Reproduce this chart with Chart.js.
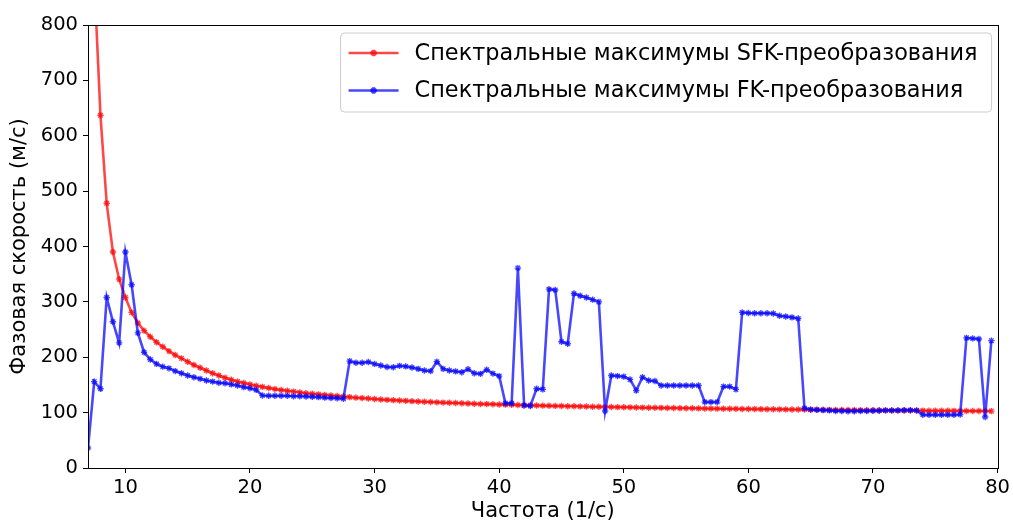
<!DOCTYPE html>
<html>
<head>
<meta charset="utf-8">
<script src="https://cdn.jsdelivr.net/npm/chart.js@4/dist/chart.umd.min.js"></script>
<style>
  html, body { margin: 0; padding: 0; background: #fff; }
  #wrap { width: 1013px; height: 523px; position: relative; }
</style>
</head>
<body>
<div id="wrap"><canvas id="c"></canvas></div>
<script>
// Frequencies (1/s) at which the spectral maxima were picked
const freqs = [
  7, 7.5, 8, 8.5, 9, 9.5, 10, 10.5, 11, 11.5,
  12, 12.5, 13, 13.5, 14, 14.5, 15, 15.5, 16, 16.5,
  17, 17.5, 18, 18.5, 19, 19.5, 20, 20.5, 21, 21.5,
  22, 22.5, 23, 23.5, 24, 24.5, 25, 25.5, 26, 26.5,
  27, 27.5, 28, 28.5, 29, 29.5, 30, 30.5, 31, 31.5,
  32, 32.5, 33, 33.5, 34, 34.5, 35, 35.5, 36, 36.5,
  37, 37.5, 38, 38.5, 39, 39.5, 40, 40.5, 41, 41.5,
  42, 42.5, 43, 43.5, 44, 44.5, 45, 45.5, 46, 46.5,
  47, 47.5, 48, 48.5, 49, 49.5, 50, 50.5, 51, 51.5,
  52, 52.5, 53, 53.5, 54, 54.5, 55, 55.5, 56, 56.5,
  57, 57.5, 58, 58.5, 59, 59.5, 60, 60.5, 61, 61.5,
  62, 62.5, 63, 63.5, 64, 64.5, 65, 65.5, 66, 66.5,
  67, 67.5, 68, 68.5, 69, 69.5, 70, 70.5, 71, 71.5,
  72, 72.5, 73, 73.5, 74, 74.5, 75, 75.5, 76, 76.5,
  77, 77.5, 78, 78.5, 79, 79.5
];

// Phase velocity (m/s) of the SFK-transform maxima
const sfkVelocity = [
  null, 885, 637, 478, 390, 341, 308, 281, 262, 248,
  237, 227, 219, 211, 204, 198, 192, 186, 181, 176,
  171, 167, 163, 159.5, 156, 153.5, 151, 148.5, 146.5, 144.5,
  142.5, 141, 139.5, 138, 136.5, 135, 134, 133, 132, 131,
  130, 129, 128, 127, 126.2, 125.4, 124.6, 123.8, 123.1, 122.5,
  121.9, 121.3, 120.7, 120.1, 119.6, 119.1, 118.6, 118.1, 117.7, 117.3,
  116.9, 116.5, 116.1, 115.7, 115.4, 115, 114.7, 114.4, 114.1, 113.8,
  113.5, 113.2, 112.9, 112.6, 112.4, 112.1, 111.9, 111.6, 111.4, 111.2,
  111, 110.7, 110.5, 110.3, 110.1, 109.9, 109.7, 109.5, 109.3, 109.1,
  108.9, 108.8, 108.6, 108.4, 108.3, 108.1, 107.9, 107.8, 107.6, 107.5,
  107.3, 107.2, 107, 106.9, 106.8, 106.6, 106.5, 106.4, 106.3, 106.1,
  106, 105.9, 105.8, 105.7, 105.6, 105.5, 105.4, 105.2, 105.1, 105,
  104.9, 104.8, 104.7, 104.6, 104.5, 104.4, 104.3, 104.2, 104.1, 104,
  104, 103.9, 103.8, 103.7, 103.6, 103.5, 103.4, 103.4, 103.3, 103.2,
  103.1, 103, 103, 102.9, 102.8, 102.7
];

// Phase velocity (m/s) of the FK-transform maxima
const fkVelocity = [
  36, 156, 143, 308, 264, 226, 390, 331, 244, 209,
  196, 188, 183, 180, 175, 171, 167, 164, 161, 158,
  156, 154, 153, 151, 149, 146, 144, 141, 131, 130.5,
  130.5, 130.5, 130.5, 129.5, 129.5, 129, 128.5, 128, 127, 126.5,
  126, 125, 193, 190, 190, 191.5, 188, 185, 182.5, 182,
  184.5, 183.5, 181.5, 179, 176, 175, 192, 179, 176, 174.5,
  173, 178.5, 171, 170, 177.5, 170.5, 166, 117, 117, 361,
  113, 112, 143, 142, 323, 321.5, 228, 224.5, 315, 311,
  308, 304, 300, 103, 167, 166, 165, 160, 140, 164,
  158, 157, 149, 149, 149, 149, 149, 149, 149, 119,
  119, 119, 147, 147, 142, 281, 280, 279.5, 279.5, 279.5,
  279, 275, 273.5, 272, 270, 108, 105.5, 105, 104.5, 104,
  103, 103, 102.5, 102.5, 103, 103, 103.5, 103.5, 104, 104,
  104, 104.5, 104.5, 104, 96, 96, 96, 96, 96, 96,
  96.5, 235, 234, 233, 92, 230
];

const xTickValues = [10, 20, 30, 40, 50, 60, 70, 80];
const seriesNames = [
  'Спектральные максимумы SFK-преобразования',
  'Спектральные максимумы FK-преобразования'
];
const xTitle = 'Частота (1/с)';
const yTitle = 'Фазовая скорость (м/с)';

const FONT = "'DejaVu Sans', sans-serif";
const RED = 'rgba(255, 0, 0, 0.72)';
const BLUE = 'rgba(0, 0, 255, 0.72)';

const toPoints = vals => freqs.map((f, i) => ({ x: f, y: vals[i] }));

// Full box around the plotting area
const framePlugin = {
  id: 'frame',
  afterDatasetsDraw(chart) {
    const { ctx, chartArea: a } = chart;
    ctx.save();
    ctx.strokeStyle = '#000';
    ctx.lineWidth = 1;
    ctx.strokeRect(Math.round(a.left) + 0.5, Math.round(a.top) + 0.5,
                   Math.round(a.right - a.left), Math.round(a.bottom - a.top));
    ctx.restore();
  }
};

// Framed legend in the upper right corner of the plot
const boxLegend = {
  id: 'boxLegend',
  afterDraw(chart) {
    const { ctx, chartArea: a } = chart;
    const w = 651, h = 79;
    const x0 = a.right - 6 - w, y0 = a.top + 8;
    const r = 4;
    ctx.save();
    ctx.beginPath();
    ctx.moveTo(x0 + r, y0);
    ctx.arcTo(x0 + w, y0, x0 + w, y0 + h, r);
    ctx.arcTo(x0 + w, y0 + h, x0, y0 + h, r);
    ctx.arcTo(x0, y0 + h, x0, y0, r);
    ctx.arcTo(x0, y0, x0 + w, y0, r);
    ctx.closePath();
    ctx.fillStyle = 'rgba(255,255,255,0.8)';
    ctx.fill();
    ctx.strokeStyle = '#cccccc';
    ctx.lineWidth = 1;
    ctx.stroke();

    chart.data.datasets.forEach((ds, i) => {
      const cy = y0 + 20 + i * 37.5;
      const lx0 = x0 + 8, lx1 = x0 + 58;
      ctx.strokeStyle = ds.borderColor;
      ctx.lineWidth = ds.borderWidth;
      ctx.beginPath();
      ctx.moveTo(lx0, cy);
      ctx.lineTo(lx1, cy);
      ctx.stroke();
      Chart.helpers.drawPoint(ctx, {
        pointStyle: ds.pointStyle, radius: ds.pointRadius,
        borderWidth: ds.pointBorderWidth, rotation: 0
      }, (lx0 + lx1) / 2, cy);
      ctx.fillStyle = '#000';
      ctx.font = '22.4px ' + FONT;
      ctx.textBaseline = 'middle';
      ctx.textAlign = 'left';
      ctx.fillText(ds.label, x0 + 74, cy + 1);
    });
    ctx.restore();
  }
};

const tickFont = { family: FONT, size: 19.5 };
const xTitleFont = { family: FONT, size: 21, lineHeight: 1.05 };
const yTitleFont = { family: FONT, size: 21 };

new Chart(document.getElementById('c'), {
  type: 'line',
  data: {
    datasets: [
      {
        label: seriesNames[0],
        data: toPoints(sfkVelocity),
        borderColor: RED, backgroundColor: RED,
        pointBorderColor: RED, pointBackgroundColor: RED,
        borderWidth: 2.6, pointStyle: 'star', pointRadius: 3.2, pointBorderWidth: 1.4,
        tension: 0, fill: false, order: 2
      },
      {
        label: seriesNames[1],
        data: toPoints(fkVelocity),
        borderColor: BLUE, backgroundColor: BLUE,
        pointBorderColor: BLUE, pointBackgroundColor: BLUE,
        borderWidth: 2.6, pointStyle: 'star', pointRadius: 3.2, pointBorderWidth: 1.4,
        tension: 0, fill: false, order: 1
      }
    ]
  },
  options: {
    responsive: true,
    maintainAspectRatio: false,
    animation: false,
    devicePixelRatio: 1,
    layout: { padding: { top: 25, right: 15, bottom: 0, left: 0 } },
    plugins: { legend: { display: false }, tooltip: { enabled: false } },
    events: [],
    scales: {
      x: {
        type: 'linear', min: 7, max: 80,
        afterBuildTicks: s => { s.ticks = xTickValues.map(v => ({ value: v })); },
        afterFit: s => { s.height = 55; },
        grid: { display: true, drawOnChartArea: false, drawTicks: true, tickLength: 5, color: '#000', lineWidth: 1 },
        border: { display: false },
        ticks: { font: tickFont, color: '#000', padding: 3, maxRotation: 0, autoSkip: false },
        title: { display: true, text: xTitle, font: xTitleFont, color: '#000', padding: { top: 0, bottom: 0 } }
      },
      y: {
        min: 0, max: 800,
        afterFit: s => { s.width = 88; },
        grid: { display: true, drawOnChartArea: false, drawTicks: true, tickLength: 5, color: '#000', lineWidth: 1 },
        border: { display: false },
        ticks: { stepSize: 100, font: tickFont, color: '#000', padding: 5 },
        title: { display: true, text: yTitle, font: yTitleFont, color: '#000', padding: { top: 7, bottom: 0 } }
      }
    }
  },
  plugins: [framePlugin, boxLegend]
});
</script>
</body>
</html>
